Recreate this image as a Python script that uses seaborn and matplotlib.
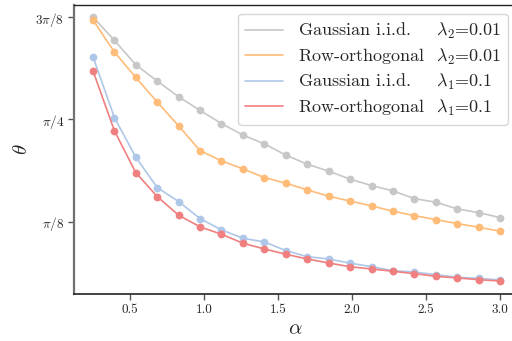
import numpy as np
import pandas as pd
import matplotlib
matplotlib.use("Agg")
import matplotlib.pyplot as plt
from matplotlib.lines import Line2D
import seaborn as sns

# sample ratio alpha
alpha = [0.25, 0.395, 0.539, 0.684, 0.829, 0.974, 1.118, 1.263, 1.408, 1.553,
         1.697, 1.842, 1.987, 2.132, 2.276, 2.421, 2.566, 2.711, 2.855, 3.0]

# angle theta for each ensemble / regularisation
gauss_l2 = [1.1796, 1.0895, 0.9959, 0.9332, 0.8727, 0.8200, 0.7700, 0.7253, 0.6918, 0.6483,
            0.6136, 0.5867, 0.5559, 0.5313, 0.5108, 0.4812, 0.4673, 0.4415, 0.4273, 0.4081]
rowo_l2 = [1.1680, 1.0448, 0.9471, 0.8527, 0.7603, 0.6656, 0.6263, 0.5955, 0.5621, 0.5405,
           0.5147, 0.4904, 0.4716, 0.4531, 0.4327, 0.4158, 0.4004, 0.3850, 0.3711, 0.3557]
gauss_l1 = [1.0267, 0.7927, 0.6406, 0.5236, 0.4697, 0.4042, 0.3607, 0.3287, 0.3145, 0.2810,
            0.2579, 0.2490, 0.2329, 0.2194, 0.2040, 0.1990, 0.1886, 0.1786, 0.1747, 0.1682]
rowo_l1 = [0.9728, 0.7418, 0.5813, 0.4889, 0.4173, 0.3722, 0.3441, 0.3095, 0.2875, 0.2671,
           0.2490, 0.2336, 0.2190, 0.2105, 0.2017, 0.1925, 0.1824, 0.1759, 0.1694, 0.1643]

names = ["Gaussian i.i.d.", "Row-orthogonal", "Gaussian i.i.d.", "Row-orthogonal"]
lambdas = [r"\lambda_2$=0.01", r"\lambda_2$=0.01", r"\lambda_1$=0.1", r"\lambda_1$=0.1"]
series = [gauss_l2, rowo_l2, gauss_l1, rowo_l1]
colors = ["#c7c7c7", "#ffbb78", "#aec7e8", "#f07f7f"]

ytick_vals = [np.pi / 8, np.pi / 4, 3 * np.pi / 8]
ytick_labels = [r"$\pi/8$", r"$\pi/4$", r"$3\pi/8$"]

sns.set_theme(style="white")
plt.rcParams.update({
    "font.family": "serif",
    "font.serif": ["cmr10", "DejaVu Serif"],
    "mathtext.fontset": "cm",
    "axes.formatter.use_mathtext": True,
    "axes.unicode_minus": False,
})

LEG_FS = 13

fig = plt.figure(figsize=(5.12, 3.41), dpi=100)
ax = fig.add_axes([0.144, 0.137, 1.01 - 0.144, 0.986 - 0.137])

frames = []
for i, ys in enumerate(series):
    frames.append(pd.DataFrame({"alpha": alpha, "theta": ys, "curve": i}))
df = pd.concat(frames, ignore_index=True)

for i, c in enumerate(colors):
    sub = df[df["curve"] == i]
    sns.lineplot(data=sub, x="alpha", y="theta", color=c, lw=1.2, ax=ax,
                 marker="o", markersize=5.6, markeredgewidth=0, legend=False)

ax.set_xlim(0.12, 3.115)
ax.set_ylim(0.1132, 1.2266)
ax.set_xticks([0.5, 1.0, 1.5, 2.0, 2.5, 3.0])
ax.set_xticklabels(["0.5", "1.0", "1.5", "2.0", "2.5", "3.0"])
ax.set_yticks(ytick_vals)
ax.set_yticklabels(ytick_labels)
ax.tick_params(axis="both", which="major", labelsize=9.5, length=4, width=1,
               direction="out", bottom=True, left=True, color="#555555", pad=3)

ax.spines["left"].set_color("#707070")
ax.spines["left"].set_linewidth(1.6)
ax.spines["bottom"].set_color("#222222")
ax.spines["bottom"].set_linewidth(1.2)
ax.spines["top"].set_color("#222222")
ax.spines["top"].set_linewidth(1.0)
ax.spines["right"].set_visible(False)

ax.set_xlabel(r"$\alpha$", fontsize=15, labelpad=3)
ax.set_ylabel(r"$\theta$", fontsize=15, labelpad=3)

# align the regularisation column: pad each ensemble name with a math space
renderer = fig.canvas.get_renderer()


def text_width(s):
    t = fig.text(0, 0, s, fontsize=LEG_FS)
    w = t.get_window_extent(renderer).width
    t.remove()
    return w


def build(name, pad, lam):
    return name + r"$\hspace{%.4f}" % pad + lam


lam_starts, slopes = [], []
for n, lam in zip(names, lambdas):
    w0 = text_width(build(n, 0.0, lam))
    w10 = text_width(build(n, 10.0, lam))
    lam_w = text_width("$" + lam)
    lam_starts.append(w0 - lam_w)
    slopes.append((w10 - w0) / 10.0)

target = max(lam_starts) + 13.0
labels = []
for n, lam, s0, sl in zip(names, lambdas, lam_starts, slopes):
    labels.append(build(n, (target - s0) / sl, lam))

handles = [Line2D([], [], color=c, lw=1.2) for c in colors]
leg = ax.legend(handles, labels, loc="upper right",
                fontsize=LEG_FS, handlelength=2.1, handletextpad=0.8,
                labelspacing=0.3, borderpad=0.4, borderaxespad=0.5,
                frameon=True, fancybox=True, framealpha=0.8, edgecolor="#cccccc")

fig.savefig("out.png", dpi=100)
